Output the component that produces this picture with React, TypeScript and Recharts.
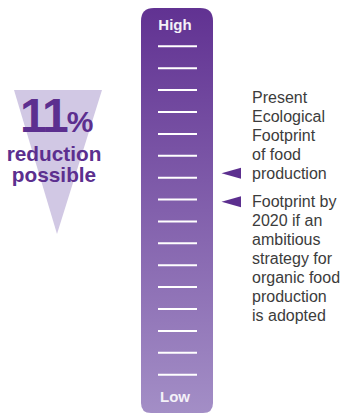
import React from 'react';
import { ComposedChart, Bar, Scatter, XAxis, YAxis } from 'recharts';

// Chart values
const categories = ['Food production'];
const scaleRange = [-0.75, 17.75]; // full gauge, low to high
const levelTicks = [1, 2, 3, 4, 5, 6, 7, 8, 9, 10, 11, 12, 13, 14, 15, 16];
const endLevels = [0, 17];
const endLabels = ['Low', 'High'];
const footprintLevels = [10.2, 8.9];
const footprintLabels = [
  ['Present', 'Ecological', 'Footprint', 'of food', 'production'],
  ['Footprint by', '2020 if an', 'ambitious', 'strategy for', 'organic food', 'production', 'is adopted'],
];
const reductionPct = 11;
const reductionText = ['reduction', 'possible'];

const FONT = '"Liberation Sans", Arial, Helvetica, sans-serif';
const PURPLE = '#5c2f8f';

const gaugeData = categories.map((name) => ({ name, range: scaleRange }));
const markerData = footprintLevels.map((level, i) => ({
  name: categories[0],
  level,
  lines: footprintLabels[i],
  anchor: i === 0 ? 'bottom' : 'top',
}));

const GaugeShape = (props: any) => {
  const { x, y, width, height } = props;
  const rt = 13;
  const rb = 10;
  const d = `M${x},${y + rt} Q${x},${y} ${x + rt},${y} L${x + width - rt},${y} Q${x + width},${y} ${x + width},${y + rt}
    L${x + width},${y + height - rb} Q${x + width},${y + height} ${x + width - rb},${y + height}
    L${x + rb},${y + height} Q${x},${y + height} ${x},${y + height - rb} Z`;
  return <path d={d} fill="url(#gaugeFill)" />;
};

const LevelTick = (props: any) => {
  const { x, y, payload } = props;
  const idx = endLevels.indexOf(payload.value);
  if (idx >= 0) {
    return (
      <text x={x + 34} y={y + 5.5} textAnchor="middle" fill="#f4f1f8" fontSize={15} fontWeight="bold" fontFamily={FONT}>
        {endLabels[idx]}
      </text>
    );
  }
  return <line x1={x + 17} x2={x + 56} y1={y} y2={y} stroke="#ffffff" strokeWidth={2} />;
};

const MarkerShape = (props: any) => {
  const { cx, cy, payload } = props;
  const tipX = cx + 44.5;
  const lineH = 19;
  const lines: string[] = payload.lines;
  const firstY = payload.anchor === 'bottom' ? cy - (lines.length - 1) * lineH : cy;
  return (
    <g>
      <polygon points={`${tipX},${cy} ${tipX + 19.5},${cy - 5.5} ${tipX + 19.5},${cy + 5.5}`} fill={PURPLE} />
      {lines.map((t, i) => (
        <text key={i} x={tipX + 30.5} y={firstY + i * lineH + 5.5} fill="#3c3c3c" fontSize={16} fontFamily={FONT}>
          {t}
        </text>
      ))}
    </g>
  );
};

export default function App() {
  return (
    <div style={{ position: 'absolute', left: 0, top: 0, width: 347, height: 414, background: '#fff', fontFamily: FONT }}>
      <svg width={347} height={414} style={{ position: 'absolute', left: 0, top: 0 }}>
        <polygon points="14,90 102,90 57,234" fill="#d1c8e4" />
        <text x={20} y={132} fill={PURPLE} fontFamily={FONT} fontWeight="bold">
          <tspan fontSize={48} letterSpacing={-2}>{String(reductionPct)}</tspan>
          <tspan fontSize={30} dx={0}>%</tspan>
        </text>
        <text textAnchor="middle" fill={PURPLE} fontFamily={FONT} fontWeight="bold" fontSize={20.8}>
          {reductionText.map((t, i) => (
            <tspan key={t} x={54} y={161 + i * 20.5}>
              {t}
            </tspan>
          ))}
        </text>
      </svg>
      <div style={{ position: 'absolute', left: 0, top: 0 }}>
        <ComposedChart
          width={347}
          height={414}
          data={gaugeData}
          margin={{ top: 8, right: 134, bottom: 1, left: 140 }}
          barCategoryGap={0}
        >
          <defs>
            <linearGradient id="gaugeFill" x1="0" y1="0" x2="0" y2="1">
              <stop offset="0%" stopColor="#613292" />
              <stop offset="100%" stopColor="#a38ec6" />
            </linearGradient>
          </defs>
          <XAxis dataKey="name" type="category" allowDuplicatedCategory={false} hide />
          <Bar dataKey="range" shape={<GaugeShape />} isAnimationActive={false} />
          <YAxis
            type="number"
            domain={scaleRange}
            ticks={[...endLevels, ...levelTicks]}
            interval={0}
            width={1}
            axisLine={false}
            tickLine={false}
            tickSize={0}
            tickMargin={0}
            tick={(p: any) => <LevelTick {...p} />}
          />
          <Scatter data={markerData} dataKey="level" shape={(p: any) => <MarkerShape {...p} />} isAnimationActive={false} />
        </ComposedChart>
      </div>
    </div>
  );
}
